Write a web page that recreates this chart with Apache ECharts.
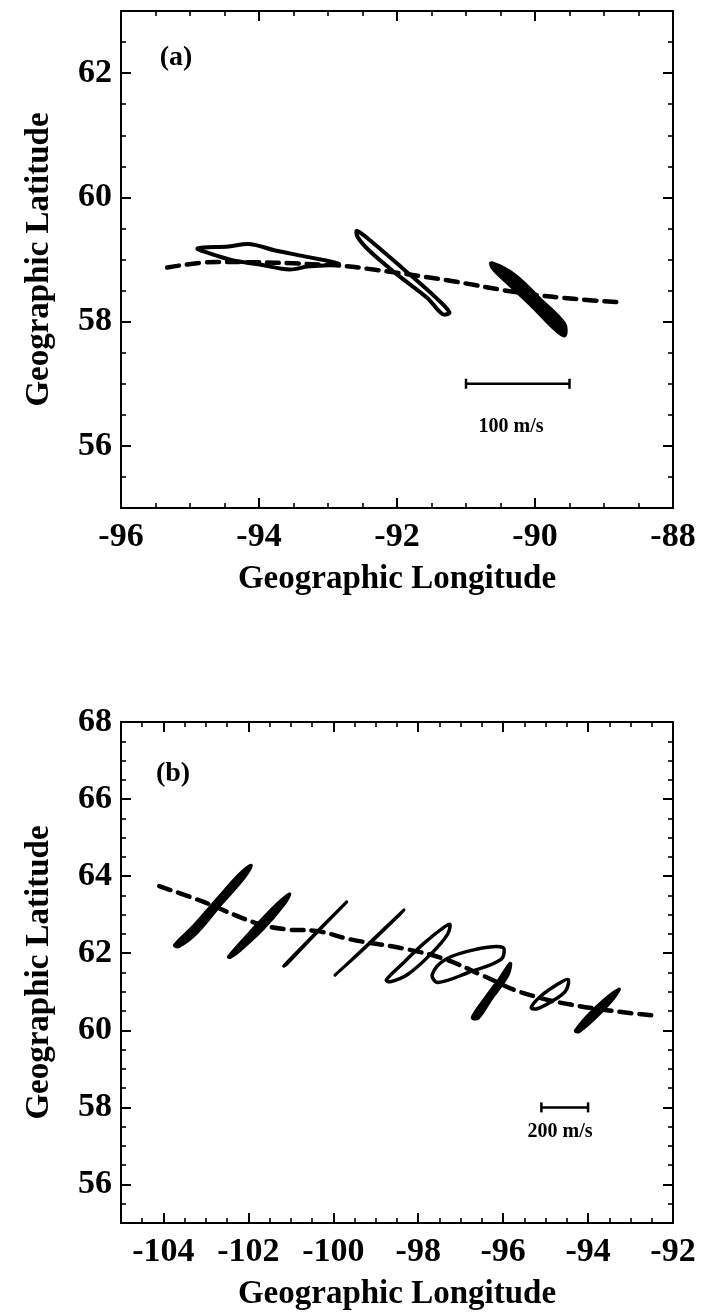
<!DOCTYPE html>
<html>
<head>
<meta charset="utf-8">
<script src="https://cdn.jsdelivr.net/npm/echarts@6/dist/echarts.min.js"></script>
<style>
  html, body { margin: 0; padding: 0; background: #fff; }
  #chart { width: 702px; height: 1315px; }
</style>
</head>
<body>
<div id="chart"></div>
<script>
// ---------- Panel (a) ----------
const xTicksA = [-96, -94, -92, -90, -88];
const yTicksA = [56, 58, 60, 62];
const trackA = [[-95.33, 58.87], [-94.61, 58.96], [-92.95, 58.91], [-92.29, 58.83],
                [-91.30, 58.67], [-90.19, 58.46], [-89.36, 58.36], [-88.76, 58.31]];
const loopA1 = [[-94.89, 59.18], [-94.44, 59.21], [-94.14, 59.25], [-93.78, 59.15], [-93.34, 59.05],
                [-92.84, 58.93], [-93.28, 58.89], [-93.56, 58.84], [-93.95, 58.91], [-94.39, 58.99],
                [-94.72, 59.10]];
const loopA2 = [[-92.58, 59.46], [-92.35, 59.27], [-91.90, 58.84], [-91.46, 58.41], [-91.24, 58.15],
                [-91.34, 58.12], [-91.56, 58.38], [-92.00, 58.76], [-92.40, 59.14], [-92.57, 59.36]];
const loopA3 = [[-90.63, 58.94], [-90.30, 58.75], [-89.92, 58.35], [-89.58, 57.97], [-89.57, 57.78],
                [-89.69, 57.86], [-90.03, 58.24], [-90.41, 58.64], [-90.61, 58.86]];
const scaleBarA = [[-91.0, 57.0], [-89.5, 57.0]];

// ---------- Panel (b) ----------
const xTicksB = [-104, -102, -100, -98, -96, -94, -92];
const yTicksB = [56, 58, 60, 62, 64, 66, 68];
const trackB = [[-104.10, 63.74], [-103.10, 63.35], [-101.84, 62.79], [-101.12, 62.62], [-100.41, 62.58],
                [-99.60, 62.36], [-98.25, 62.10], [-97.36, 61.84], [-96.46, 61.41], [-95.56, 60.98],
                [-94.22, 60.63], [-92.33, 60.37]];
const loopB1 = [[-103.74, 62.21], [-103.30, 62.70], [-102.70, 63.45], [-102.22, 64.04], [-101.93, 64.28],
                [-102.12, 63.93], [-102.62, 63.30], [-103.22, 62.52], [-103.64, 62.17]];
const loopB2 = [[-102.47, 61.91], [-101.98, 62.52], [-101.40, 63.20], [-101.03, 63.54], [-101.15, 63.28],
                [-101.66, 62.62], [-102.20, 62.07], [-102.43, 61.89]];
const loopB3 = [[-101.17, 61.67], [-100.41, 62.53], [-99.69, 63.33], [-99.78, 63.22], [-100.54, 62.36],
                [-101.12, 61.69]];
const loopB4 = [[-99.96, 61.43], [-99.15, 62.27], [-98.34, 63.12], [-98.43, 63.01], [-99.24, 62.15],
                [-99.94, 61.45]];
const loopB5 = [[-98.75, 61.31], [-98.34, 61.76], [-97.80, 62.32], [-97.27, 62.75], [-97.31, 62.49],
                [-97.71, 61.97], [-98.25, 61.45], [-98.66, 61.26]];
const loopB6 = [[-97.67, 61.45], [-97.36, 61.84], [-96.64, 62.10], [-96.01, 62.15], [-96.05, 61.84],
                [-96.82, 61.50], [-97.54, 61.24]];
const loopB7 = [[-96.73, 60.33], [-96.42, 60.84], [-96.08, 61.35], [-95.83, 61.74], [-95.89, 61.42],
                [-96.28, 60.81], [-96.59, 60.31]];
const loopB8 = [[-95.34, 60.59], [-95.11, 60.89], [-94.71, 61.20], [-94.47, 61.32], [-94.53, 61.02],
                [-94.84, 60.76], [-95.20, 60.56]];
const loopB9 = [[-94.30, 59.99], [-93.84, 60.57], [-93.27, 61.07], [-93.42, 60.80], [-93.88, 60.27],
                [-94.22, 59.96]];
const scaleBarB = [[-95.1, 58.0], [-94.0, 58.0]];

// ---------- styling ----------
const FONT = '"Liberation Serif", "Times New Roman", serif';
const INK = '#000';
const labelStyle = { fontFamily: FONT, fontWeight: 'bold', fontSize: 34, color: INK };
const nameStyle = { fontFamily: FONT, fontWeight: 'bold', fontSize: 33, color: INK };

const grids = [
  { left: 121, top: 11, width: 552, height: 497 },
  { left: 121, top: 722, width: 552, height: 501 }
];

// Per side: a major axis (line, long ticks, labels) and a minor-tick axis, mirrored on the opposite side
function axisSet(gridIndex, isX, min, max, majors, title, nameGap) {
  const pos = isX ? ['bottom', 'top'] : ['left', 'right'];
  const common = { type: 'value', gridIndex, min, max, interval: 0.5, splitLine: { show: false } };
  const line = { show: true, onZero: false, lineStyle: { color: INK, width: 2 } };
  const major = { show: true, inside: true, length: 10, customValues: majors, lineStyle: { color: INK, width: 2 } };
  const minor = { show: true, inside: true, length: 5, lineStyle: { color: INK, width: 1.6 } };
  return [
    Object.assign({}, common, {
      position: pos[0], axisLine: line, axisTick: major,
      axisLabel: Object.assign({ show: true, margin: isX ? 12 : 9, customValues: majors }, labelStyle),
      name: title, nameLocation: 'middle', nameGap, nameRotate: isX ? 0 : 90, nameTextStyle: nameStyle
    }),
    Object.assign({}, common, { position: pos[0], axisLine: { show: false }, axisTick: minor, axisLabel: { show: false } }),
    Object.assign({}, common, { position: pos[1], axisLine: line, axisTick: major, axisLabel: { show: false } }),
    Object.assign({}, common, { position: pos[1], axisLine: { show: false }, axisTick: minor, axisLabel: { show: false } })
  ];
}

const xAxes = [].concat(
  axisSet(0, true, -96, -88, xTicksA, 'Geographic Longitude', 55),
  axisSet(1, true, -105, -92, xTicksB, 'Geographic Longitude', 55)
);
const yAxes = [].concat(
  axisSet(0, false, 55, 63, yTicksA, 'Geographic Latitude', 65),
  axisSet(1, false, 55, 68, yTicksB, 'Geographic Latitude', 65)
);

function track(panel, data) {
  return {
    type: 'line', xAxisIndex: panel * 4, yAxisIndex: panel * 4, data, smooth: 0.4,
    showSymbol: false, silent: true,
    lineStyle: { color: INK, width: 4.5, type: [12, 8], cap: 'round' }
  };
}
// Closed loop drawn as one smoothed polygon through the axis scales
function loop(panel, pts, width, filled) {
  return {
    type: 'custom', xAxisIndex: panel * 4, yAxisIndex: panel * 4, data: pts, silent: true, z: 3,
    renderItem(params, api) {
      if (params.dataIndex !== 0) return null;
      return {
        type: 'polygon',
        shape: { points: pts.map(p => api.coord(p)), smooth: 0.35 },
        style: { fill: filled ? INK : 'none', stroke: INK, lineWidth: width, lineJoin: 'round' }
      };
    }
  };
}
function scaleBar(panel, data) {
  return {
    type: 'line', xAxisIndex: panel * 4, yAxisIndex: panel * 4, data,
    symbol: 'rect', symbolSize: [2.5, 10], showSymbol: true, silent: true,
    itemStyle: { color: INK }, lineStyle: { color: INK, width: 2.5 }
  };
}

const series = [
  track(0, trackA),
  loop(0, loopA1, 4, false), loop(0, loopA2, 4, false), loop(0, loopA3, 4, true),
  scaleBar(0, scaleBarA),
  track(1, trackB),
  loop(1, loopB1, 3, true), loop(1, loopB2, 3, true), loop(1, loopB3, 3, false), loop(1, loopB4, 3, false),
  loop(1, loopB5, 3.5, false), loop(1, loopB6, 3.5, false), loop(1, loopB7, 3, true), loop(1, loopB8, 3.5, false),
  loop(1, loopB9, 3, true),
  scaleBar(1, scaleBarB)
];

function text(str, x, y, size) {
  return {
    type: 'text', x, y, silent: true,
    style: { text: str, fill: INK, font: 'bold ' + size + 'px ' + FONT, textAlign: 'center', textVerticalAlign: 'middle' }
  };
}

const chart = echarts.init(document.getElementById('chart'), null, { renderer: 'canvas' });
chart.setOption({
  animation: false,
  backgroundColor: '#fff',
  grid: grids,
  xAxis: xAxes,
  yAxis: yAxes,
  series,
  graphic: [
    text('(a)', 176, 58, 28),
    text('(b)', 173, 774, 28),
    text('100 m/s', 511, 427, 20),
    text('200 m/s', 560, 1132, 20)
  ]
});
</script>
</body>
</html>
